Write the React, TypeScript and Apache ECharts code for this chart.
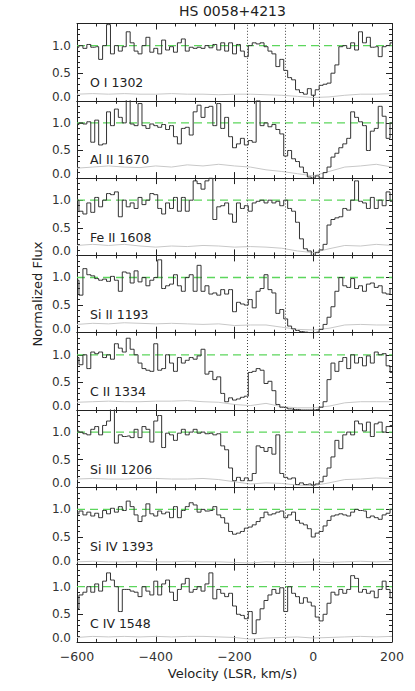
import React, { useEffect, useRef } from "react";
import * as echarts from "echarts";

// ---- data ----
const velocityStart = -600;
const velocityStep = 10;
const errStep = 40;

const fluxOI1302 = [0.97,1.0,0.95,1.02,0.97,0.98,0.75,1.0,1.38,0.85,1.0,0.9,0.98,1.25,1.05,0.9,0.85,1.0,1.15,0.88,0.95,0.85,1.1,0.92,0.98,0.88,1.05,1.12,0.9,0.97,0.95,0.97,0.95,1.0,0.96,1.02,0.92,1.05,0.9,1.05,0.85,1.02,0.9,0.8,1.0,1.05,1.03,1.05,0.98,0.9,0.85,0.62,0.75,0.55,0.42,0.38,0.2,0.15,0.12,0.22,0.1,0.2,0.28,0.3,0.32,0.5,0.65,0.98,1.0,0.95,1.05,0.92,1.25,1.05,1.15,0.97,0.98,0.8,0.98,1.0,1.05];
const fluxAlII1670 = [0.97,1.0,0.98,1.02,0.65,1.05,0.6,0.62,1.2,0.95,1.25,1.1,1.0,1.45,0.98,0.95,1.35,0.95,0.9,0.98,0.95,0.92,0.97,0.88,0.95,0.75,0.62,0.9,0.92,0.78,1.2,1.32,1.1,1.28,1.3,0.95,1.35,0.9,1.1,0.75,0.55,0.62,0.72,0.6,0.68,0.65,1.4,0.95,1.0,0.93,0.97,0.88,0.8,0.4,0.5,0.35,0.3,0.2,0.1,0.02,0.0,0.04,0.0,0.1,0.2,0.38,0.45,0.55,0.62,0.72,1.2,1.1,1.02,0.95,0.5,0.85,0.9,1.3,1.12,0.72,1.0];
const fluxFeII1608 = [1.0,0.8,0.75,0.95,0.78,1.05,0.88,1.0,1.12,1.1,1.15,0.7,1.0,0.88,0.95,0.85,1.05,0.92,1.0,1.12,1.1,0.85,0.75,0.95,0.85,1.05,0.8,1.05,0.8,1.0,1.35,1.3,1.2,1.35,1.4,0.65,0.88,0.9,0.95,0.75,0.6,0.95,0.85,0.9,0.8,0.95,0.98,1.0,0.95,1.0,0.95,0.98,0.9,1.0,0.85,0.8,0.6,0.3,0.12,0.08,0.0,0.05,0.1,0.2,0.55,0.65,0.68,0.7,0.85,0.82,1.0,1.35,0.98,0.95,0.85,1.05,0.85,1.0,0.9,1.15,0.98];
const fluxSiII1193 = [0.95,0.68,1.16,1.05,1.03,0.98,0.95,0.97,0.93,1.02,0.95,0.75,1.1,1.08,0.9,1.12,0.92,1.0,0.85,0.95,1.0,1.32,0.8,0.85,0.88,1.05,0.85,0.75,1.0,1.05,0.75,1.22,0.75,0.85,0.7,0.72,0.68,0.78,0.7,0.78,0.38,0.55,0.52,0.5,0.6,0.45,0.75,0.8,1.05,0.78,0.72,0.35,0.42,0.25,0.12,0.07,0.04,0.02,0.01,0.0,0.0,0.01,0.06,0.15,0.28,0.47,0.75,1.0,0.85,0.82,0.98,0.8,0.85,0.75,0.88,0.9,0.82,0.85,0.72,0.7,0.8];
const fluxCII1334 = [0.95,0.82,1.0,0.75,1.05,1.02,1.05,0.95,1.0,0.92,1.2,1.12,1.05,1.3,1.1,1.0,0.85,0.75,0.72,0.7,1.2,0.72,0.75,1.0,0.85,0.7,0.95,0.85,0.9,0.95,0.92,0.98,1.1,0.65,0.7,0.55,0.6,0.3,0.15,0.22,0.18,0.2,0.23,0.25,0.68,0.7,0.75,0.72,0.48,0.52,0.35,0.1,0.05,0.04,0.02,0.01,0.01,0.0,0.0,0.0,0.0,0.01,0.05,0.15,0.55,0.85,0.7,0.88,0.95,0.75,1.0,0.85,0.95,0.8,0.98,0.85,1.05,1.0,1.02,0.8,0.68];
const fluxSiIII1206 = [1.02,1.0,0.97,0.95,1.05,1.1,0.95,1.12,1.2,1.45,0.8,0.95,0.92,0.93,0.9,1.05,0.9,1.1,1.05,0.82,1.2,1.3,0.72,0.98,0.95,0.85,0.98,1.05,0.95,1.0,1.05,0.98,1.0,0.97,0.98,0.95,0.97,0.75,0.68,0.35,0.12,0.18,0.12,0.17,0.12,0.25,0.75,0.72,0.65,0.72,0.6,0.95,0.25,0.18,0.15,0.17,0.05,0.08,0.05,0.06,0.04,0.06,0.1,0.2,0.35,0.55,0.85,0.7,0.95,1.0,0.95,1.2,1.15,1.02,1.18,0.92,1.15,1.18,1.0,1.1,1.12];
const fluxSiIV1393 = [0.92,0.97,0.9,0.95,0.88,0.93,0.85,0.98,0.92,1.02,0.95,1.05,0.98,1.15,1.05,0.9,0.78,0.88,1.1,0.92,0.88,0.97,0.92,0.95,0.85,1.05,0.85,0.98,1.05,1.12,1.08,0.95,1.0,0.97,0.98,1.05,0.9,0.85,0.75,0.6,0.55,0.57,0.6,0.66,0.68,0.72,0.78,0.85,0.95,0.9,0.92,0.95,0.97,0.85,0.9,0.95,0.8,0.75,0.72,0.65,0.5,0.57,0.6,0.7,0.8,0.88,0.9,0.92,0.9,0.88,0.95,1.0,0.98,0.97,0.85,0.88,0.85,0.82,0.9,0.93,1.0];
const fluxCIV1548 = [0.6,0.85,0.9,1.0,0.9,1.05,0.92,1.1,1.25,1.12,1.0,0.55,0.95,0.95,0.92,0.9,0.82,1.0,0.92,0.85,1.1,0.85,1.05,1.12,0.9,0.75,0.95,1.05,1.15,0.9,0.95,1.0,0.92,1.05,1.25,0.78,0.95,0.88,0.82,0.88,0.65,0.5,0.48,0.42,0.55,0.15,0.4,0.6,0.75,0.85,0.95,0.88,0.98,0.55,1.0,0.88,0.82,0.7,0.8,0.72,0.65,0.45,0.38,0.5,0.7,0.9,0.85,0.95,0.88,0.95,1.2,1.15,0.9,0.95,0.88,0.92,0.8,0.95,1.1,0.95,0.8];

const errOI1302 = [0.12,0.13,0.12,0.13,0.12,0.12,0.13,0.12,0.12,0.11,0.12,0.12,0.11,0.1,0.08,0.06,0.07,0.1,0.12,0.12,0.13];
const errAlII1670 = [0.18,0.2,0.22,0.2,0.19,0.22,0.2,0.24,0.22,0.25,0.22,0.2,0.15,0.12,0.08,0.04,0.12,0.2,0.22,0.25,0.2];
const errFeII1608 = [0.18,0.2,0.18,0.2,0.17,0.15,0.17,0.16,0.18,0.17,0.15,0.16,0.15,0.13,0.08,0.05,0.12,0.18,0.17,0.2,0.18];
const errSiII1193 = [0.15,0.17,0.16,0.18,0.17,0.16,0.17,0.16,0.15,0.16,0.13,0.14,0.14,0.1,0.06,0.05,0.08,0.14,0.15,0.14,0.14];
const errCII1334 = [0.14,0.15,0.16,0.15,0.15,0.16,0.16,0.17,0.15,0.14,0.1,0.08,0.12,0.06,0.04,0.04,0.07,0.13,0.15,0.15,0.15];
const errSiIII1206 = [0.15,0.16,0.15,0.15,0.16,0.16,0.15,0.15,0.16,0.14,0.1,0.06,0.08,0.07,0.04,0.03,0.08,0.14,0.15,0.17,0.16];
const errSiIV1393 = [0.05,0.06,0.05,0.05,0.06,0.05,0.05,0.06,0.05,0.05,0.04,0.03,0.05,0.04,0.04,0.05,0.04,0.05,0.06,0.05,0.06];
const errCIV1548 = [0.08,0.1,0.09,0.1,0.09,0.1,0.09,0.1,0.1,0.09,0.08,0.05,0.07,0.08,0.09,0.07,0.08,0.09,0.1,0.09,0.1];

const ionLabels = ["O I 1302", "Al II 1670", "Fe II 1608", "Si II 1193", "C II 1334", "Si III 1206", "Si IV 1393", "C IV 1548"];
const fluxes = [fluxOI1302, fluxAlII1670, fluxFeII1608, fluxSiII1193, fluxCII1334, fluxSiIII1206, fluxSiIV1393, fluxCIV1548];
const errors = [errOI1302, errAlII1670, errFeII1608, errSiII1193, errCII1334, errSiIII1206, errSiIV1393, errCIV1548];
const componentVelocities = [-168, -70, 16];
const continuumLevel = 1;
const xTicks = { min: -600, max: 200, major: 200, minor: 50 };
const yTicks = { min: 0, max: 1.4, major: 0.5, minor: 0.1 };

const titleText = "HS 0058+4213";
const xTitle = "Velocity (LSR, km/s)";
const yTitle = "Normalized Flux";

// ---- layout ----
const FONT = "DejaVu Sans";
const INK = "#222";
const PLOT_LEFT = 77;
const PLOT_WIDTH = 315;
const PLOT_TOP = 23.5;
const PANEL_H = 77.3;

function buildOption() {
  const grid: any[] = [];
  const xAxis: any[] = [];
  const yAxis: any[] = [];
  const series: any[] = [];
  const graphic: any[] = [];
  const n = ionLabels.length;

  for (let i = 0; i < n; i++) {
    const top = PLOT_TOP + i * PANEL_H;
    grid.push({ left: PLOT_LEFT, width: PLOT_WIDTH, top, height: PANEL_H, containLabel: false });
    const axisLine = { show: true, onZero: false, lineStyle: { color: INK, width: 1 } };
    ["bottom", "top"].forEach((pos) => {
      xAxis.push({
        type: "value", gridIndex: i, position: pos,
        min: xTicks.min, max: xTicks.max, interval: xTicks.major,
        axisLine, splitLine: { show: false },
        axisTick: { show: true, inside: true, length: 6, lineStyle: { color: INK } },
        minorTick: { show: true, splitNumber: xTicks.major / xTicks.minor, length: 3, lineStyle: { color: INK } },
        axisLabel: {
          show: pos === "bottom" && i === n - 1,
          fontFamily: FONT, fontSize: 12.5, color: "#333", margin: 8,
          formatter: (v: number) => String(v).replace("-", "\u2212"),
        },
      });
    });
    ["left", "right"].forEach((pos) => {
      yAxis.push({
        type: "value", gridIndex: i, position: pos,
        min: yTicks.min, max: yTicks.max, interval: yTicks.major,
        axisLine, splitLine: { show: false },
        axisTick: { show: true, inside: true, length: 6, lineStyle: { color: INK } },
        axisLabel: {
          show: pos === "left",
          fontFamily: FONT, fontSize: 12, color: "#333", margin: 6,
          formatter: (v: number) => {
            if (Math.abs(v / yTicks.major - Math.round(v / yTicks.major)) > 1e-6) return "";
            return v === 0 ? "{z|0.0}" : v.toFixed(1);
          },
          rich: { z: { fontFamily: FONT, fontSize: 12, color: "#333", padding: [0, 0, 8, 0] } },
        },
      });
      yAxis.push({
        type: "value", gridIndex: i, position: pos,
        min: yTicks.min, max: yTicks.max, interval: yTicks.minor,
        axisLine: { show: false, onZero: false }, splitLine: { show: false },
        axisTick: { show: true, inside: true, length: 3, lineStyle: { color: INK } },
        axisLabel: { show: false },
      });
    });

    const flux = fluxes[i].map((f, k) => [velocityStart + k * velocityStep, f]);
    const err = errors[i].map((e, k) => [velocityStart + k * errStep, e]);

    series.push({
      type: "line", xAxisIndex: 2 * i, yAxisIndex: 4 * i,
      data: err, symbol: "none", silent: true,
      lineStyle: { color: "#c8c8c8", width: 1 }, z: 2,
    });
    series.push({
      type: "line", xAxisIndex: 2 * i, yAxisIndex: 4 * i,
      data: [[xTicks.min, continuumLevel], [xTicks.max, continuumLevel]],
      symbol: "none", silent: true,
      lineStyle: { color: "#5cd65c", width: 1.3, type: [8, 5] }, z: 3,
    });
    series.push({
      type: "line", xAxisIndex: 2 * i, yAxisIndex: 4 * i,
      data: flux, step: "middle", symbol: "none", silent: true, clip: true,
      lineStyle: { color: "#333", width: 1 }, z: 4,
      markLine: {
        silent: true, symbol: "none", animation: false,
        label: { show: false },
        data: componentVelocities.map((v) => ({ xAxis: v, lineStyle: { color: "#444", width: 1, type: [1, 2] } })),
      },
    });

    graphic.push({
      type: "text", x: 90, y: top + 59,
      style: { text: ionLabels[i], fontFamily: FONT, fontSize: 12.5, fill: INK, align: "left", verticalAlign: "middle" },
    });
  }

  graphic.push({
    type: "text", x: PLOT_LEFT + PLOT_WIDTH / 2 - 2, y: 11,
    style: { text: titleText, fontFamily: FONT, fontSize: 14, fill: INK, align: "center", verticalAlign: "middle" },
  });
  graphic.push({
    type: "text", x: PLOT_LEFT + PLOT_WIDTH / 2 - 2, y: 673,
    style: { text: xTitle, fontFamily: FONT, fontSize: 13, fill: INK, align: "center", verticalAlign: "middle" },
  });
  graphic.push({
    type: "text", x: 37, y: 294, rotation: Math.PI / 2,
    style: { text: yTitle, fontFamily: FONT, fontSize: 13, fill: INK, align: "center", verticalAlign: "middle" },
  });

  return {
    animation: false,
    backgroundColor: "#fff",
    grid, xAxis, yAxis, series, graphic,
  };
}

export default function App() {
  const ref = useRef<HTMLDivElement>(null);
  useEffect(() => {
    if (!ref.current) return;
    const chart = echarts.init(ref.current, undefined, { renderer: "svg" });
    chart.setOption(buildOption());
    return () => chart.dispose();
  }, []);
  return <div ref={ref} style={{ position: "fixed", left: 0, top: 0, width: 415, height: 691, background: "#fff" }} />;
}
